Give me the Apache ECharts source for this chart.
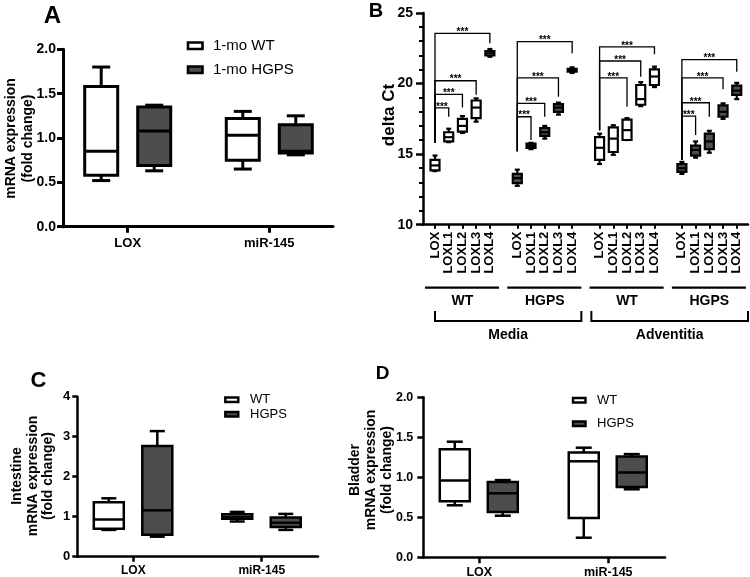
<!DOCTYPE html>
<html><head><meta charset="utf-8">
<script src="https://cdn.jsdelivr.net/npm/echarts@6/dist/echarts.min.js"></script>
<style>html,body{margin:0;padding:0;background:#fff}#c{width:750px;height:577px}</style>
</head><body><div id="c"></div>
<script>
// ---------- DATA ----------
// Panel A (aorta, 1-mo), [min, Q1, median, Q3, max]
const catsA = ['LOX', 'miR-145'];
const aWT   = [[0.52, 0.58, 0.85, 1.58, 1.80], [0.65, 0.75, 1.03, 1.22, 1.30]];
const aHGPS = [[0.63, 0.69, 1.08, 1.35, 1.37], [0.81, 0.83, 0.85, 1.15, 1.25]];
const legendA = ['1-mo WT', '1-mo HGPS'];
const yTitleA = 'mRNA expression\n(fold change)';

// Panel B (delta Ct)
const geneCats = ['LOX', 'LOXL1', 'LOXL2', 'LOXL3', 'LOXL4'];
const groupNames = ['WT', 'HGPS', 'WT', 'HGPS'];
const groupStart = [0, 6, 12, 18];
const tissueNames = ['Media', 'Adventitia'];
const mediaWT   = [[13.8, 13.85, 14.2, 14.6, 14.9], [15.85, 15.9, 16.2, 16.55, 16.8], [16.5, 16.6, 17.0, 17.5, 17.7], [17.3, 17.55, 18.3, 18.8, 18.95], [21.9, 22.0, 22.15, 22.3, 22.45]];
const mediaHGPS = [[12.75, 12.95, 13.3, 13.6, 13.9], [15.35, 15.45, 15.6, 15.75, 15.8], [16.1, 16.3, 16.55, 16.85, 17.0], [17.8, 18.0, 18.3, 18.55, 18.65], [20.75, 20.85, 20.95, 21.05, 21.15]];
const advWT     = [[14.3, 14.6, 15.45, 16.2, 16.45], [14.95, 15.15, 16.1, 16.9, 17.05], [16.0, 16.0, 16.7, 17.45, 17.55], [18.4, 18.5, 18.9, 19.9, 20.1], [19.75, 19.9, 20.5, 21.0, 21.2]];
const advHGPS   = [[13.6, 13.75, 14.0, 14.3, 14.45], [14.75, 14.9, 15.3, 15.6, 15.9], [15.1, 15.35, 15.9, 16.45, 16.65], [17.5, 17.65, 18.0, 18.45, 18.6], [18.9, 19.2, 19.5, 19.85, 20.05]];
const yTitleB = 'delta Ct';
// significance brackets
const sigFrom    = [0, 0, 0, 0, 6, 6, 6, 6, 12, 12, 12, 18, 18, 18, 18];
const sigTo      = [1, 2, 3, 4, 7, 8, 9, 10, 14, 15, 16, 19, 20, 21, 22];
const sigTop     = [18.28, 19.23, 20.2, 23.56, 17.65, 18.6, 20.4, 22.97, 20.4, 21.6, 22.6, 17.7, 18.64, 20.4, 21.7];
const sigFromLow = [15.8, 15.8, 15.8, 15.8, 15.2, 15.2, 15.2, 15.2, 16.7, 16.7, 16.7, 14.6, 14.6, 14.6, 14.6];
const sigToLow   = [17.65, 18.3, 19.2, 22.85, 16.0, 17.65, 19.07, 22.14, 18.35, 20.48, 22.07, 16.35, 17.65, 19.6, 20.84];
const sigText = '***';

// Panel C (intestine)
const catsC = ['LOX', 'miR-145'];
const cWT   = [[0.67, 0.70, 0.93, 1.36, 1.46], [0.88, 0.95, 1.00, 1.06, 1.12]];
const cHGPS = [[0.50, 0.55, 1.16, 2.77, 3.14], [0.67, 0.74, 0.85, 0.98, 1.07]];
const yTitleC = 'Intestine\nmRNA expression\n(fold change)';

// Panel D (bladder)
const catsD = ['LOX', 'miR-145'];
const dWT   = [[0.65, 0.70, 0.96, 1.35, 1.445], [0.245, 0.49, 1.20, 1.31, 1.37]];
const dHGPS = [[0.52, 0.565, 0.80, 0.94, 0.965], [0.85, 0.88, 1.06, 1.26, 1.29]];
const yTitleD = 'Bladder\nmRNA expression\n(fold change)';
const legendCD = ['WT', 'HGPS'];
const panelLetters = ['A', 'B', 'C', 'D'];

// ---------- STYLE ----------
const F = "'Liberation Sans', Arial, sans-serif";
const DARK = '#4d4d4d';

function boxSeries(xi, yi, rows, idx, offset, boxW, capW, fill, lw) {
  return {
    type: 'custom', xAxisIndex: xi, yAxisIndex: yi,
    data: rows.map((r, i) => [idx(i)].concat(r)),
    encode: { x: 0, y: [1, 2, 3, 4, 5] },
    renderItem: (p, api) => {
      const x = api.value(0);
      const c = v => api.coord([x, v]);
      const cx = c(api.value(3))[0] + offset;
      const yMin = c(api.value(1))[1], yQ1 = c(api.value(2))[1], yMd = c(api.value(3))[1],
            yQ3 = c(api.value(4))[1], yMax = c(api.value(5))[1];
      const ls = { stroke: '#000', lineWidth: lw };
      return { type: 'group', children: [
        { type: 'line', shape: { x1: cx, y1: yMax, x2: cx, y2: yQ3 }, style: ls },
        { type: 'line', shape: { x1: cx, y1: yQ1, x2: cx, y2: yMin }, style: ls },
        { type: 'line', shape: { x1: cx - capW / 2, y1: yMax, x2: cx + capW / 2, y2: yMax }, style: ls },
        { type: 'line', shape: { x1: cx - capW / 2, y1: yMin, x2: cx + capW / 2, y2: yMin }, style: ls },
        { type: 'rect', shape: { x: cx - boxW / 2, y: yQ3, width: boxW, height: yQ1 - yQ3 }, style: { fill: fill, stroke: '#000', lineWidth: lw } },
        { type: 'line', shape: { x1: cx - boxW / 2, y1: yMd, x2: cx + boxW / 2, y2: yMd }, style: ls }
      ] };
    }
  };
}

function xCat(grid, min, max, names, fs, lw, tickLen, margin) {
  const vals = names.map((n, i) => i);
  return {
    type: 'value', gridIndex: grid, min: min, max: max,
    axisLine: { show: true, onZero: false, lineStyle: { color: '#000', width: lw } },
    axisTick: { show: true, customValues: vals, length: tickLen, lineStyle: { color: '#000', width: lw } },
    axisLabel: { show: true, customValues: vals, formatter: v => names[Math.round(v)] || '', color: '#000', fontFamily: F, fontWeight: 'bold', fontSize: fs, margin: margin },
    splitLine: { show: false }
  };
}
function yVal(grid, min, max, interval, fmt, fs, lw, tickLen, margin, minor) {
  const o = {
    type: 'value', gridIndex: grid, min: min, max: max, interval: interval,
    axisLine: { show: true, onZero: false, lineStyle: { color: '#000', width: lw } },
    axisTick: { show: true, length: tickLen, lineStyle: { color: '#000', width: lw } },
    axisLabel: { color: '#000', fontFamily: F, fontWeight: 'bold', fontSize: fs, margin: margin, formatter: fmt },
    splitLine: { show: false }
  };
  if (minor) o.minorTick = { show: true, splitNumber: minor, length: 4, lineStyle: { color: '#000', width: 2 } };
  return o;
}

const bIdx = g => (i => groupStart[g] + i);
const bLabelNames = [];
for (let i = 0; i <= 22; i++) bLabelNames.push('');
groupStart.forEach(s => geneCats.forEach((n, i) => { bLabelNames[s + i] = n; }));
const bTickVals = [];
groupStart.forEach(s => geneCats.forEach((n, i) => bTickVals.push(s + i)));

const xB = {
  type: 'value', gridIndex: 1, min: -0.875, max: 22.82,
  axisLine: { show: true, onZero: false, lineStyle: { color: '#000', width: 2.5 } },
  axisTick: { show: true, customValues: bTickVals, length: 4, lineStyle: { color: '#000', width: 2 } },
  axisLabel: { show: true, customValues: bTickVals, rotate: 90, formatter: v => bLabelNames[Math.round(v)], color: '#000', fontFamily: F, fontWeight: 'bold', fontSize: 13, margin: 7 },
  splitLine: { show: false }
};

const sigData = sigFrom.map((f, i) => [f, sigTo[i], sigTop[i], sigFromLow[i], sigToLow[i]]);

const option = {
  animation: false,
  backgroundColor: '#fff',
  grid: [
    { left: 63, top: 49.3, width: 270, height: 177.4, outerBoundsMode: 'none' },
    { left: 423, top: 13, width: 325, height: 211.7, outerBoundsMode: 'none' },
    { left: 77.3, top: 396.7, width: 240.7, height: 160, outerBoundsMode: 'none' },
    { left: 423.3, top: 397.3, width: 241.7, height: 160, outerBoundsMode: 'none' }
  ],
  xAxis: [
    xCat(0, -0.457, 1.45, catsA, 13, 3, 6, 10),
    xB,
    xCat(2, -0.436, 1.438, catsC, 12, 2.5, 5, 8),
    xCat(3, -0.434, 1.44, catsD, 12.5, 2.5, 6, 9)
  ],
  yAxis: [
    yVal(0, 0, 2, 0.5, v => v.toFixed(1), 14, 3, 6, 7),
    yVal(1, 10, 25, 5, v => String(v), 14, 2.5, 7, 10, 5),
    yVal(2, 0, 4, 1, v => String(v), 13, 2.5, 5, 7),
    yVal(3, 0, 2, 0.5, v => v.toFixed(1), 12.5, 2.5, 6, 10)
  ],
  series: [
    boxSeries(0, 0, aWT, i => i, -26.5, 33, 18, '#fff', 3),
    boxSeries(0, 0, aHGPS, i => i, 26.5, 33, 18, DARK, 3),
    boxSeries(1, 1, mediaWT, bIdx(0), 0, 9, 5, '#fff', 2.2),
    boxSeries(1, 1, mediaHGPS, bIdx(1), 0, 9, 5, DARK, 2.2),
    boxSeries(1, 1, advWT, bIdx(2), 0, 9, 5, '#fff', 2.2),
    boxSeries(1, 1, advHGPS, bIdx(3), 0, 9, 5, DARK, 2.2),
    {
      type: 'custom', xAxisIndex: 1, yAxisIndex: 1, data: sigData,
      encode: { x: [0, 1], y: [2, 3, 4] },
      renderItem: (p, api) => {
        const f = api.value(0), t = api.value(1), top = api.value(2), fl = api.value(3), tl = api.value(4);
        const p1 = api.coord([f, fl]), p2 = api.coord([f, top]), p3 = api.coord([t, top]), p4 = api.coord([t, tl]);
        return { type: 'group', children: [
          { type: 'polyline', shape: { points: [p1, p2, p3, p4] }, style: { stroke: '#000', lineWidth: 1.3, fill: null } },
          { type: 'text', x: (p2[0] + p3[0]) / 2, y: p2[1] + 4, style: { text: sigText, fill: '#000', font: 'bold 10px ' + F, align: 'center', verticalAlign: 'bottom' } }
        ] };
      }
    },
    boxSeries(2, 2, cWT, i => i, -24.5, 30, 15, '#fff', 2.5),
    boxSeries(2, 2, cHGPS, i => i, 24, 30, 15, DARK, 2.5),
    boxSeries(3, 3, dWT, i => i, -24.5, 30, 16, '#fff', 2.5),
    boxSeries(3, 3, dHGPS, i => i, 23.5, 30, 16, DARK, 2.5)
  ]
};

const chart = echarts.init(document.getElementById('c'), null, { renderer: 'canvas' });
chart.setOption(option);

const px = v => chart.convertToPixel({ xAxisIndex: 1 }, v);
const T = (text, x, y, font, extra) => Object.assign({ type: 'text', x: x, y: y, style: { text: text, font: font, fill: '#000', align: 'center', verticalAlign: 'middle' } }, extra || {});
const L = (x1, y1, x2, y2, w) => ({ type: 'line', shape: { x1: x1, y1: y1, x2: x2, y2: y2 }, style: { stroke: '#000', lineWidth: w } });
const R = (x, y, w, h, fill, lw) => ({ type: 'rect', shape: { x: x, y: y, width: w, height: h }, style: { fill: fill, stroke: '#000', lineWidth: lw } });

const g = [];
// panel letters
g.push(T(panelLetters[0], 52.5, 16.5, 'bold 24px ' + F));
g.push(T(panelLetters[1], 376, 11.5, 'bold 20px ' + F));
g.push(T(panelLetters[2], 38.5, 381, 'bold 22px ' + F));
g.push(T(panelLetters[3], 382.5, 374, 'bold 19px ' + F));
// y titles
g.push(T(yTitleA, 19.5, 138.5, 'bold 14px ' + F, { rotation: Math.PI / 2, style: { text: yTitleA, font: 'bold 14px ' + F, fill: '#000', align: 'center', verticalAlign: 'middle', lineHeight: 17 } }));
g.push(T(yTitleB, 389, 115, 'bold 17px ' + F, { rotation: Math.PI / 2 }));
g.push(T(yTitleC, 33, 476, 'bold 14px ' + F, { rotation: Math.PI / 2, style: { text: yTitleC, font: 'bold 14px ' + F, fill: '#000', align: 'center', verticalAlign: 'middle', lineHeight: 15.5 } }));
g.push(T(yTitleD, 371, 470, 'bold 14px ' + F, { rotation: Math.PI / 2, style: { text: yTitleD, font: 'bold 14px ' + F, fill: '#000', align: 'center', verticalAlign: 'middle', lineHeight: 16 } }));
// legends
g.push(R(188, 42.5, 14.5, 6.5, '#fff', 2.6), R(188, 66.5, 14.5, 6.5, DARK, 2.6));
g.push(T(legendA[0], 213, 46, '15px ' + F, { style: { text: legendA[0], font: '15px ' + F, fill: '#000', align: 'left', verticalAlign: 'middle' } }));
g.push(T(legendA[1], 213, 70, '15px ' + F, { style: { text: legendA[1], font: '15px ' + F, fill: '#000', align: 'left', verticalAlign: 'middle' } }));
g.push(R(225.3, 397.5, 13, 4.5, '#fff', 2.4), R(225.3, 412, 13, 4.5, DARK, 2.4));
g.push(T(legendCD[0], 250, 399.5, '13px ' + F, { style: { text: legendCD[0], font: '13px ' + F, fill: '#000', align: 'left', verticalAlign: 'middle' } }));
g.push(T(legendCD[1], 250, 414, '13px ' + F, { style: { text: legendCD[1], font: '13px ' + F, fill: '#000', align: 'left', verticalAlign: 'middle' } }));
g.push(R(573, 398, 12.5, 4.5, '#fff', 2.4), R(573, 421.5, 12.5, 4.5, DARK, 2.4));
g.push(T(legendCD[0], 597, 400, '13px ' + F, { style: { text: legendCD[0], font: '13px ' + F, fill: '#000', align: 'left', verticalAlign: 'middle' } }));
g.push(T(legendCD[1], 597, 423.5, '13px ' + F, { style: { text: legendCD[1], font: '13px ' + F, fill: '#000', align: 'left', verticalAlign: 'middle' } }));
// panel B group annotations
groupStart.forEach((s, k) => {
  g.push(L(px(s - 0.73), 287.7, px(s + 4.67), 287.7, 2.2));
  g.push(T(groupNames[k], px(s + 2), 301.5, 'bold 14px ' + F));
});
[[0, 10.67], [11.4, 22.82]].forEach((r, k) => {
  const x1 = px(r[0]), x2 = px(r[1]);
  g.push({ type: 'polyline', shape: { points: [[x1, 311], [x1, 321], [x2, 321], [x2, 311]] }, style: { stroke: '#000', lineWidth: 2, fill: null } });
  g.push(T(tissueNames[k], (x1 + x2) / 2, 335, 'bold 14px ' + F));
});
chart.setOption({ graphic: g });
</script></body></html>
